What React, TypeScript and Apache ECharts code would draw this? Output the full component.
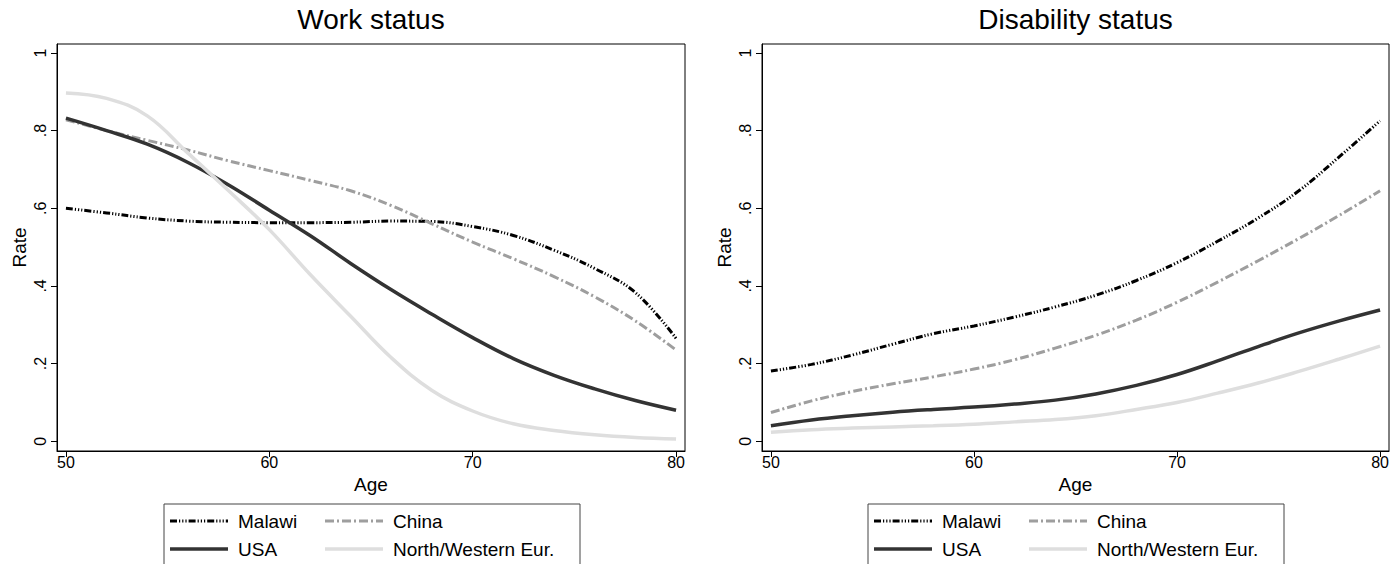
import React, { useEffect, useRef } from "react";
import * as echarts from "echarts";

const ages = [50, 52, 54, 56, 58, 60, 62, 64, 66, 68, 70, 72, 74, 76, 78, 80];
const yTicks = [0, 0.2, 0.4, 0.6, 0.8, 1];
const xTicks = [50, 60, 70, 80];

// Work status
const workMalawi = [0.6, 0.588, 0.575, 0.567, 0.564, 0.563, 0.563, 0.564, 0.567, 0.566, 0.553, 0.53, 0.492, 0.445, 0.383, 0.265];
const workChina = [0.828, 0.8, 0.775, 0.75, 0.722, 0.697, 0.672, 0.645, 0.607, 0.56, 0.513, 0.47, 0.424, 0.372, 0.31, 0.235];
const workUSA = [0.832, 0.8, 0.765, 0.718, 0.66, 0.595, 0.53, 0.458, 0.39, 0.327, 0.267, 0.213, 0.17, 0.135, 0.105, 0.08];
const workNWE = [0.897, 0.883, 0.838, 0.742, 0.645, 0.545, 0.43, 0.322, 0.215, 0.131, 0.078, 0.045, 0.028, 0.017, 0.01, 0.006];

// Disability status
const disMalawi = [0.181, 0.198, 0.222, 0.25, 0.277, 0.297, 0.32, 0.346, 0.376, 0.414, 0.46, 0.515, 0.575, 0.645, 0.733, 0.825];
const disChina = [0.074, 0.104, 0.128, 0.148, 0.166, 0.186, 0.21, 0.24, 0.273, 0.312, 0.358, 0.41, 0.465, 0.522, 0.582, 0.645];
const disUSA = [0.04, 0.055, 0.066, 0.075, 0.082, 0.088, 0.096, 0.106, 0.122, 0.144, 0.172, 0.207, 0.244, 0.279, 0.31, 0.338];
const disNWE = [0.023, 0.03, 0.034, 0.037, 0.04, 0.044, 0.05, 0.056, 0.066, 0.082, 0.1, 0.124, 0.15, 0.18, 0.212, 0.245];

const countries = ["Malawi", "China", "USA", "North/Western Eur."];
const titles = ["Work status", "Disability status"];

const FONT = "'Liberation Sans', Arial, Helvetica, sans-serif";

const styles: Record<string, any> = {
  Malawi: { color: "#000000", width: 3, type: [7, 2, 1.2, 2, 1.2, 2, 1.2, 2] },
  China: { color: "#9e9e9e", width: 3, type: [9, 3, 2, 3] },
  USA: { color: "#333333", width: 3.5, type: "solid" },
  "North/Western Eur.": { color: "#dedede", width: 3.5, type: "solid" },
};

const grids = [
  { left: 57, top: 44, width: 628, height: 407 },
  { left: 762, top: 44, width: 627, height: 407 },
];

function yFmt(v: number) {
  if (Math.abs(v) < 1e-9) return "0";
  if (Math.abs(v - 1) < 1e-9) return "1";
  return v.toFixed(1).replace(/^0\./, ".");
}

export default function App() {
  const ref = useRef<HTMLDivElement>(null);
  useEffect(() => {
    document.body.style.margin = "0";
    if (!ref.current) return;
    const chart = echarts.init(ref.current, undefined, { renderer: "svg" });
    const data = [
      [workMalawi, workChina, workUSA, workNWE],
      [disMalawi, disChina, disUSA, disNWE],
    ];
    const series: any[] = [];
    data.forEach((panel, gi) => {
      panel.forEach((vals, ci) => {
        const name = countries[ci];
        const st = styles[name];
        series.push({
          type: "line",
          name,
          xAxisIndex: gi,
          yAxisIndex: gi,
          data: ages.map((a, i) => [a, vals[i]]),
          smooth: 0.4,
          showSymbol: false,
          symbol: "none",
          lineStyle: { color: st.color, width: st.width, type: st.type, cap: "butt" },
          z: 2 + ci,
        });
      });
    });

    const xAxes = grids.map((_, gi) => ({
      type: "value",
      gridIndex: gi,
      min: 49.56,
      max: 80.44,
      name: "Age",
      nameLocation: "middle",
      nameGap: 24,
      nameTextStyle: { fontFamily: FONT, fontSize: 19, color: "#000" },
      axisLine: { show: true, onZero: false, lineStyle: { color: "#000", width: 1 } },
      axisTick: { show: true, length: 6, customValues: xTicks, lineStyle: { color: "#000" } },
      axisLabel: { customValues: xTicks, fontFamily: FONT, fontSize: 16, color: "#000", margin: 3 },
      splitLine: { show: false },
    }));
    const yAxes = grids.map((_, gi) => ({
      type: "value",
      gridIndex: gi,
      min: -0.025,
      max: 1.023,
      name: "Rate",
      nameLocation: "middle",
      nameGap: 28,
      nameTextStyle: { fontFamily: FONT, fontSize: 19, color: "#000" },
      axisLine: { show: true, onZero: false, lineStyle: { color: "#000", width: 1 } },
      axisTick: { show: true, length: 6, customValues: yTicks, lineStyle: { color: "#000" } },
      axisLabel: {
        customValues: yTicks,
        rotate: 90,
        formatter: yFmt,
        fontFamily: FONT,
        fontSize: 16,
        color: "#000",
        margin: 9,
      },
      splitLine: { show: false },
    }));

    const graphic: any[] = [];
    const legendLefts = [164, 868];
    legendLefts.forEach((lx) => {
      graphic.push({
        type: "rect",
        shape: { x: lx, y: 504, width: 416, height: 80 },
        style: { fill: "#fff", stroke: "#444", lineWidth: 1 },
        silent: true,
      });
      const cols = [lx + 6, lx + 161];
      const rows = [521, 549];
      countries.forEach((name, i) => {
        const col = i % 2;
        const row = Math.floor(i / 2);
        const st = styles[name];
        const x0 = cols[col];
        const y0 = rows[row];
        graphic.push({
          type: "line",
          shape: { x1: x0, y1: y0, x2: x0 + 58, y2: y0 },
          style: {
            stroke: st.color,
            lineWidth: st.width,
            lineDash: Array.isArray(st.type) ? st.type : null,
          },
          silent: true,
        });
        graphic.push({
          type: "text",
          x: x0 + 68,
          y: y0,
          style: {
            text: name,
            fontFamily: FONT,
            fontSize: 19,
            fill: "#000",
            verticalAlign: "middle",
            align: "left",
          },
          silent: true,
        });
      });
    });

    chart.setOption({
      animation: false,
      backgroundColor: "#ffffff",
      title: titles.map((t, i) => ({
        text: t,
        left: grids[i].left + grids[i].width / 2,
        top: 5,
        textAlign: "center",
        padding: 0,
        textStyle: { fontFamily: FONT, fontSize: 28, fontWeight: "normal", color: "#000" },
      })),
      grid: grids.map((g) => ({
        ...g,
        show: true,
        borderColor: "#000",
        borderWidth: 1,
        backgroundColor: "transparent",
        containLabel: false,
      })),
      xAxis: xAxes,
      yAxis: yAxes,
      series,
      graphic,
    });
    return () => chart.dispose();
  }, []);
  return (
    <div
      ref={ref}
      style={{ position: "absolute", left: 0, top: 0, width: 1397, height: 564 }}
    />
  );
}
